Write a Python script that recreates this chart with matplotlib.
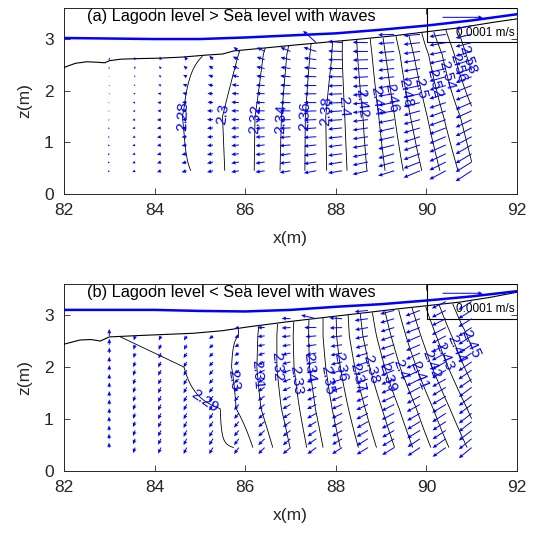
import numpy as np
import matplotlib.pyplot as plt
from matplotlib.patches import Rectangle

plt.rcParams['font.family'] = ['Liberation Sans', 'DejaVu Sans']

# ---------------- data ----------------
# arrow grid: column positions (m) and row heights (m)
col_x = [83.0, 83.57, 84.14, 84.71, 85.29, 85.86, 86.43, 87.0, 87.57, 88.14,
         88.71, 89.29, 89.86, 90.43, 91.0]
row_z = [0.45, 0.62, 0.78, 0.95, 1.11, 1.28, 1.44, 1.61, 1.77, 1.94, 2.10,
         2.27, 2.43, 2.60, 2.76, 2.93, 3.09, 3.26]

# velocities, 1e-6 m/s, one list per column, bottom to top
u_a = [
    [-4, -4, -4, -4, -4, -4, -3, -3, -3, -2, -2, -1, -1, 0],
    [-7, -7, -7, -7, -7, -7, -7, -6, -6, -5, -4, -3, -2, -1],
    [-10, -10, -10, -10, -10, -10, -10, -9, -9, -8, -7, -6, -5, -3],
    [-13, -13, -13, -13, -13, -13, -12, -12, -12, -11, -10, -9, -8, -6],
    [-15, -15, -15, -15, -15, -15, -15, -15, -14, -14, -13, -12, -11, -9],
    [-19, -19, -19, -19, -19, -19, -19, -19, -19, -18, -18, -17, -16, -15, -13],
    [-23, -23, -23, -23, -23, -23, -23, -23, -23, -22, -22, -21, -21, -20, -19],
    [-27, -27, -27, -27, -27, -27, -27, -27, -27, -27, -26, -26, -25, -25, -25],
    [-31, -31, -31, -31, -31, -31, -31, -31, -31, -31, -31, -31, -31, -31, -32, -33],
    [-35, -35, -35, -35, -35, -35, -35, -35, -35, -35, -35, -35, -35, -35, -35, -35],
    [-38, -38, -38, -38, -38, -38, -38, -38, -38, -38, -38, -38, -38, -38, -38, -38],
    [-40, -40, -40, -40, -40, -40, -40, -40, -40, -40, -40, -40, -40, -40, -40, -40, -40],
    [-41, -41, -41, -41, -41, -41, -41, -41, -41, -41, -41, -41, -41, -41, -41, -41, -41],
    [-41, -41, -41, -41, -41, -41, -41, -41, -41, -41, -41, -41, -41, -41, -41, -41, -41],
    [-40, -40, -40, -40, -40, -40, -40, -40, -40, -40, -40, -40, -40, -40, -40, -40, -40, -40],
]
w_a = [
    [-3, -3, -3, -3, -2, -2, -2, -1, -1, 0, 1, 2, 4, 5],
    [-3, -3, -2, -2, -2, -1, -1, -1, 0, 1, 2, 3, 5, 6],
    [-3, -3, -2, -2, -2, -1, -1, 0, 0, 1, 2, 3, 5, 7],
    [-3, -3, -2, -2, -1, -1, 0, 0, 1, 2, 3, 4, 6, 8],
    [-3, -3, -2, -2, -1, -1, 0, 0, 1, 1, 2, 4, 6, 9],
    [-3, -3, -2, -2, -1, -1, 0, 0, 1, 1, 2, 3, 5, 7, 10],
    [-3, -3, -2, -2, -1, -1, 0, 0, 0, 1, 1, 2, 4, 6, 9],
    [-4, -3, -3, -2, -2, -1, -1, 0, 0, 0, 1, 2, 3, 5, 9],
    [-5, -4, -4, -3, -2, -2, -1, -1, 0, 0, 0, 1, 2, 4, 9, 26],
    [-5, -5, -4, -4, -3, -3, -2, -2, -1, -1, -1, 0, 0, 0, 1, 3],
    [-8, -7, -7, -6, -5, -5, -4, -4, -3, -3, -2, -2, -1, -1, 0, 1],
    [-11, -10, -10, -9, -8, -8, -7, -6, -6, -5, -5, -4, -4, -3, -3, -2, -1],
    [-15, -14, -13, -12, -12, -11, -10, -10, -9, -8, -8, -7, -6, -6, -5, -4, -3],
    [-19, -18, -17, -16, -15, -14, -13, -13, -12, -11, -10, -10, -9, -8, -7, -6, -5],
    [-23, -22, -21, -20, -19, -18, -17, -16, -15, -14, -14, -13, -12, -11, -10, -9, -8, -7],
]
u_b = [
    [-1, -1, -1, -1, 0, 0, 0, 0, 0, 0, 0, 0, 0, 0],
    [-5, -5, -5, -5, -5, -5, -5, -5, -5, -5, -4, -4, -4, -3],
    [-7, -7, -7, -7, -7, -7, -7, -7, -7, -7, -7, -6, -6, -5],
    [-8, -8, -8, -8, -8, -8, -8, -8, -8, -8, -8, -8, -7, -7],
    [-10, -10, -10, -10, -10, -10, -10, -10, -10, -10, -10, -10, -10, -10],
    [-12, -12, -12, -12, -12, -12, -12, -12, -12, -12, -12, -11, -11, -11, -11],
    [-16, -16, -16, -16, -16, -16, -17, -17, -17, -17, -17, -17, -18, -18, -18],
    [-19, -19, -19, -19, -19, -20, -20, -20, -20, -21, -21, -21, -21, -22, -22, -22],
    [-22, -22, -22, -22, -23, -23, -23, -24, -24, -24, -25, -25, -26, -27, -30, -38],
    [-25, -25, -25, -26, -26, -26, -27, -27, -27, -28, -28, -29, -29, -30, -31, -32],
    [-28, -28, -28, -28, -29, -29, -29, -30, -30, -30, -31, -31, -31, -32, -32, -33, -33],
    [-30, -30, -30, -31, -31, -31, -32, -32, -32, -33, -33, -33, -34, -34, -34, -35, -35],
    [-31, -31, -32, -32, -32, -33, -33, -33, -34, -34, -34, -35, -35, -35, -36, -36, -36],
    [-33, -33, -33, -33, -34, -34, -34, -34, -34, -34, -35, -35, -35, -35, -35, -35, -35, -35],
    [-32, -32, -32, -32, -32, -32, -32, -32, -32, -33, -33, -33, -33, -33, -33, -33, -33, -33],
]
w_b = [
    [11, 11, 11, 11, 11, 11, 11, 11, 11, 11, 11, 12, 13, 15],
    [-12, -12, -12, -12, -12, -12, -12, -12, -12, -12, -12, -11, -11, -10],
    [-13, -13, -13, -13, -13, -13, -13, -13, -12, -12, -12, -12, -11, -10],
    [-14, -14, -14, -14, -13, -13, -13, -13, -13, -12, -12, -11, -11, -10],
    [-14, -14, -14, -13, -13, -13, -12, -12, -11, -11, -10, -9, -8, -7],
    [-14, -14, -13, -13, -12, -12, -11, -10, -9, -8, -7, -6, -5, -4, -2],
    [-14, -14, -13, -12, -12, -11, -10, -9, -8, -7, -6, -5, -3, -2, 0],
    [-14, -14, -13, -12, -11, -10, -9, -8, -7, -6, -5, -4, -3, -2, -1, 1],
    [-14, -13, -13, -12, -11, -10, -9, -8, -7, -6, -5, -4, -3, -2, 0, 8],
    [-14, -13, -13, -12, -11, -10, -10, -9, -8, -7, -6, -5, -4, -3, -1, 2],
    [-15, -15, -14, -14, -13, -12, -12, -11, -10, -10, -9, -8, -7, -6, -5, -4, -3],
    [-16, -16, -15, -15, -14, -14, -13, -13, -12, -12, -11, -11, -10, -10, -9, -9, -8],
    [-18, -18, -17, -17, -16, -16, -16, -15, -15, -14, -14, -14, -13, -13, -12, -12, -12],
    [-20, -20, -19, -19, -19, -18, -18, -18, -17, -17, -17, -16, -16, -16, -16, -15, -15, -15],
    [-23, -23, -22, -22, -22, -21, -21, -21, -20, -20, -20, -19, -19, -19, -19, -18, -18, -18],
]

# hydraulic head: x position (m) of each level at the heights in anchor_z
anchor_z_a = [0.45, 1.5, 2.7, 3.3]
levels_a = [2.26, 2.28, 2.30, 2.32, 2.34, 2.36, 2.38, 2.40, 2.42, 2.44, 2.46,
            2.48, 2.50, 2.52, 2.54, 2.56, 2.58, 2.60]
xpos_a = [
    [82.0, 82.0, 82.0, 82.0],
    [84.80, 84.63, 85.10, 85.60],
    [85.55, 85.50, 85.85, 86.10],
    [86.20, 86.22, 86.40, 86.60],
    [86.77, 86.80, 86.92, 87.05],
    [87.32, 87.33, 87.43, 87.50],
    [87.80, 87.78, 87.92, 87.98],
    [88.25, 88.20, 88.14, 88.15],
    [88.69, 88.60, 88.48, 88.45],
    [89.09, 88.95, 88.80, 88.73],
    [89.49, 89.30, 89.10, 89.00],
    [89.90, 89.65, 89.42, 89.28],
    [90.30, 90.02, 89.72, 89.55],
    [90.70, 90.38, 90.05, 89.85],
    [91.05, 90.75, 90.35, 90.10],
    [91.42, 91.10, 90.62, 90.38],
    [91.80, 91.45, 90.88, 90.65],
    [92.20, 91.80, 91.15, 90.92],
]
# drawn and labelled levels
label_lev_a = [2.28, 2.30, 2.32, 2.34, 2.36, 2.38, 2.40, 2.42, 2.44, 2.46,
               2.48, 2.50, 2.52, 2.54, 2.56, 2.58]
label_z_a = [1.5, 1.55, 1.45, 1.45, 1.5, 1.6, 1.7, 1.75, 1.8, 1.85, 1.95,
             2.05, 2.15, 2.3, 2.45, 2.6]

anchor_z_b = [0.45, 1.2, 2.0, 2.6, 3.4]
levels_b = [2.28, 2.29, 2.30, 2.31, 2.32, 2.33, 2.34, 2.35, 2.36, 2.37, 2.38,
            2.39, 2.40, 2.41, 2.42, 2.43, 2.44, 2.45, 2.46]
xpos_b = [
    [82.0, 82.0, 82.0, 82.0, 82.0],
    [85.75, 85.45, 84.65, 83.20, 82.50],
    [86.17, 85.80, 85.70, 85.85, 86.00],
    [86.61, 86.35, 86.26, 86.28, 86.35],
    [86.99, 86.80, 86.70, 86.70, 86.75],
    [87.36, 87.20, 87.08, 87.06, 87.10],
    [87.72, 87.55, 87.42, 87.40, 87.42],
    [88.10, 87.92, 87.78, 87.72, 87.72],
    [88.50, 88.28, 88.10, 88.02, 88.00],
    [88.90, 88.65, 88.42, 88.30, 88.25],
    [89.30, 89.02, 88.75, 88.60, 88.50],
    [89.70, 89.40, 89.08, 88.90, 88.75],
    [90.10, 89.78, 89.42, 89.22, 89.00],
    [90.50, 90.15, 89.78, 89.55, 89.30],
    [90.90, 90.52, 90.12, 89.88, 89.60],
    [91.30, 90.90, 90.48, 90.22, 89.90],
    [91.70, 91.28, 90.84, 90.56, 90.20],
    [92.10, 91.65, 91.20, 90.90, 90.50],
    [92.50, 92.00, 91.55, 91.25, 90.80],
]
label_lev_b = [2.29, 2.30, 2.31, 2.32, 2.33, 2.34, 2.35, 2.36, 2.37, 2.38,
               2.39, 2.40, 2.41, 2.42, 2.43, 2.44, 2.45]
label_z_b = [1.45, 1.75, 1.85, 2.0, 1.75, 2.0, 1.75, 2.0, 1.8, 1.95, 1.8,
             1.95, 1.85, 2.05, 2.2, 2.35, 2.45]

# sand surface and water level
bed_xa = [82.0, 82.25, 82.5, 82.75, 82.9, 83.0, 83.25, 83.6, 84.1, 84.6, 85.15,
          85.5, 85.75, 86.35, 87.05, 87.8, 88.55, 89.25, 90.0, 90.75, 91.45, 92.0]
bed_za = [2.45, 2.53, 2.56, 2.55, 2.54, 2.58, 2.61, 2.62, 2.63, 2.65, 2.69,
          2.71, 2.77, 2.82, 2.88, 2.94, 3.0, 3.06, 3.14, 3.22, 3.32, 3.39]
bed_xb = [82.0, 82.35, 82.6, 82.8, 83.0, 83.74, 84.85, 85.5, 86.04, 86.92, 87.8,
          88.5, 89.27, 90.0, 90.74, 91.4, 92.0]
bed_zb = [2.44, 2.52, 2.53, 2.50, 2.58, 2.61, 2.65, 2.70, 2.77, 2.87, 2.96,
          3.03, 3.11, 3.18, 3.25, 3.34, 3.44]
sea_x = [82, 83, 84, 85, 86, 87, 88, 89, 90, 91, 92]
sea_za = [3.02, 3.01, 3.0, 3.0, 3.03, 3.07, 3.11, 3.18, 3.26, 3.36, 3.48]
sea_zb = [3.10, 3.10, 3.10, 3.08, 3.07, 3.10, 3.16, 3.21, 3.28, 3.36, 3.46]

titles = ['(a) Lagoon level > Sea level with waves',
          '(b) Lagoon level < Sea level with waves']

panels = [
    dict(u=u_a, w=w_a, az=anchor_z_a, lev=levels_a, xp=xpos_a, ll=label_lev_a,
         lz=label_z_a, bx=bed_xa, bz=bed_za, sz=sea_za, rect=[0.1194, 0.638, 0.845, 0.347]),
    dict(u=u_b, w=w_b, az=anchor_z_b, lev=levels_b, xp=xpos_b, ll=label_lev_b,
         lz=label_z_b, bx=bed_xb, bz=bed_zb, sz=sea_zb, rect=[0.1194, 0.1213, 0.845, 0.349]),
]

fig = plt.figure(figsize=(5.36, 5.36), dpi=100)
dark = '0.15'

for p, title in zip(panels, titles):
    ax = fig.add_axes(p['rect'])

    # head field on a fine grid, masked above the sand surface
    xf = np.linspace(83, 91, 161)
    zf = np.linspace(0.45, 3.4, 150)
    xp = np.array(p['xp'])
    lev = np.array(p['lev'])
    rows = np.array([np.interp(xf, xp[:, j], lev) for j in range(len(p['az']))])
    H = np.array([np.interp(zf, p['az'], rows[:, i]) for i in range(len(xf))]).T
    bed_f = np.interp(xf, p['bx'], p['bz'])
    H = np.ma.masked_where(zf[:, None] > bed_f[None, :], H)
    cs = ax.contour(xf, zf, H, levels=p['ll'], colors='k', linewidths=0.6, zorder=2)

    pos = []
    for L, zl in zip(p['ll'], p['lz']):
        k = int(np.argmin(np.abs(lev - L)))
        pos.append((np.interp(zl, p['az'], xp[k]), zl))
    ax.clabel(cs, manual=pos, inline=False, fontsize=11,
              colors='b', fmt='%g', zorder=5)

    # arrows
    xs, zs, us, ws = [], [], [], []
    for i, (cu, cw) in enumerate(zip(p['u'], p['w'])):
        for k in range(len(cu)):
            xs.append(col_x[i]); zs.append(row_z[k]); us.append(cu[k]); ws.append(cw[k])
    q = ax.quiver(xs, zs, us, ws, angles='xy', scale_units='xy', scale=113,
                  color='b', width=0.0022, headwidth=4, headlength=4.5,
                  headaxislength=4, zorder=4)

    ax.plot(p['bx'], p['bz'], color='k', lw=0.8, zorder=3)
    ax.plot(sea_x, p['sz'], color=(0, 0, 1), lw=1.8, zorder=6)

    # scale box
    ax.add_patch(Rectangle((0.801, 0.815), 0.199, 0.185, transform=ax.transAxes,
                           fill=False, ec='k', lw=0.8, zorder=3))
    ax.quiverkey(q, 0.88, 0.95, 100, '', coordinates='axes', labelpos='N')
    ax.text(0.995, 0.868, '0.0001 m/s', transform=ax.transAxes, ha='right',
            va='center', fontsize=8.5)
    ax.text(0.05, 0.952, title, transform=ax.transAxes, ha='left', va='center',
            fontsize=11.8)

    ax.set_xlim(82, 92)
    ax.set_ylim(0, 3.6)
    ax.set_xticks([82, 84, 86, 88, 90, 92])
    ax.set_yticks([0, 1, 2, 3])
    ax.tick_params(direction='in', top=True, right=True, length=4, width=0.6,
                   colors=dark, labelsize=12.5, labelcolor=dark)
    ax.tick_params(axis='x', pad=6.5)
    ax.tick_params(axis='y', pad=7.5)
    for s in ax.spines.values():
        s.set_color(dark)
        s.set_linewidth(0.7)
    ax.set_xlabel('x(m)', fontsize=12.5, color=dark, labelpad=9)
    ax.set_ylabel('z(m)', fontsize=12.5, color=dark, labelpad=8)

fig.savefig('out.png', dpi=100)
